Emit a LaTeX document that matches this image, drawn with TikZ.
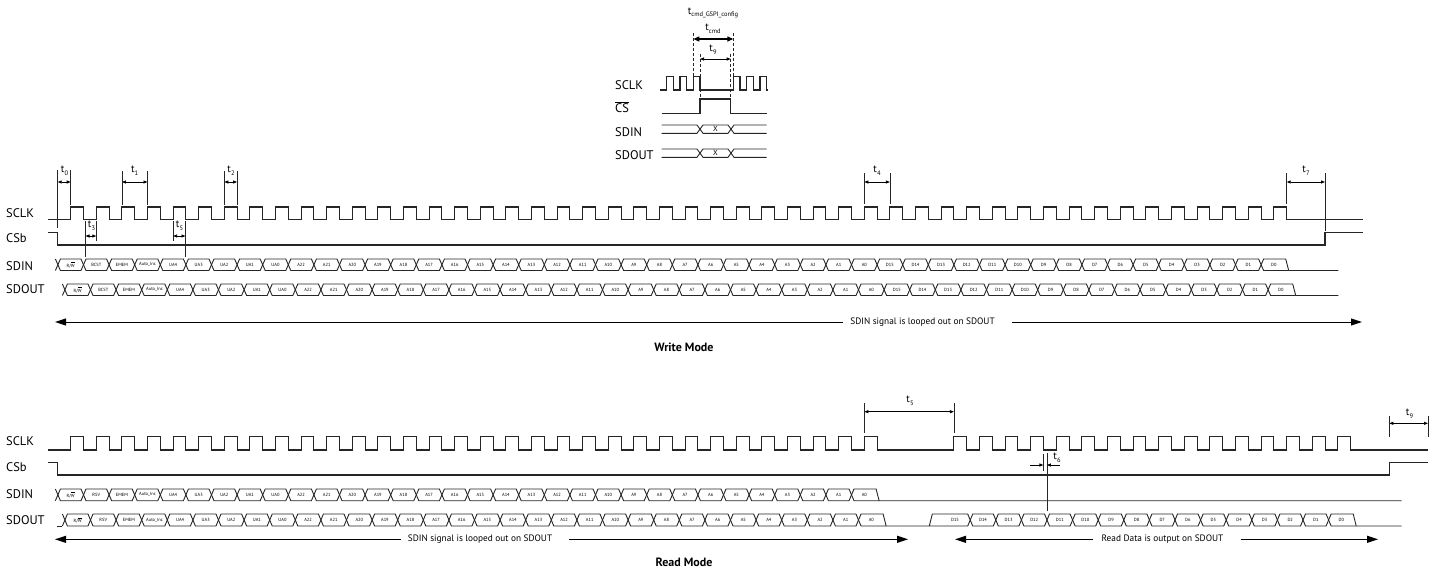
\documentclass[tikz,border=0pt]{standalone}
\usepackage{fontspec}
\setmainfont{PT Sans}
\usetikzlibrary{arrows.meta}
\newcommand{\myol}[1]{$\overline{\mbox{#1}}$}
\newcommand{\tlab}[1]{t\raisebox{-0.5ex}{\fontsize{6.5}{6.5}\selectfont #1}}
% hexagonal bus cell: a, b, top, bottom, label, name
\newcommand{\hcell}[6]{%
  \draw[bus] (#1,{(#3+#4)/2}) -- ({#1+2.5},#3) -- ({#2-2.5},#3) -- (#2,{(#3+#4)/2}) -- ({#2-2.5},#4) -- ({#1+2.5},#4) -- cycle;
  \node[cellf] (#6) at ({(#1+#2)/2},{(#3+#4)/2}) {#5};}
% last cell of a bus: a, b, top, bottom, label, end of trailing line
\newcommand{\lcell}[6]{%
  \draw[bus] (#1,{(#3+#4)/2}) -- ({#1+2.5},#3) -- ({#2-1},#3) -- ({#2+2},#4) -- (#6,#4);
  \draw[bus] (#1,{(#3+#4)/2}) -- ({#1+2.5},#4) -- ({#2+2},#4);
  \node[cellf] at ({(#1+#2)/2},{(#3+#4)/2}) {#5};}
% partial crossing before the first cell: a, top, bottom
\newcommand{\pcross}[3]{%
  \draw[bus] ({#1-2.5},#2) -- (#1,{(#2+#3)/2}) -- ({#1-2.5},#3);}
\def\wlist{{R/\myol{W}},BCST,EMEM,Auto\_Inc,UA4,UA3,UA2,UA1,UA0,A22,A21,A20,A19,A18,A17,A16,A15,A14,A13,A12,A11,A10,A9,A8,A7,A6,A5,A4,A3,A2,A1,A0,D15,D14,D13,D12,D11,D10,D9,D8,D7,D6,D5,D4,D3,D2,D1}
\def\rlist{{R/\myol{W}},RSV,EMEM,Auto\_Inc,UA4,UA3,UA2,UA1,UA0,A22,A21,A20,A19,A18,A17,A16,A15,A14,A13,A12,A11,A10,A9,A8,A7,A6,A5,A4,A3,A2,A1}
\def\dlist{D14,D13,D12,D11,D10,D9,D8,D7,D6,D5,D4,D3,D2,D1}
\begin{document}
\begin{tikzpicture}[x=1pt,y=-1pt,
  sig/.style={line width=1.1pt,draw=black!85,line join=miter},
  bus/.style={line width=0.9pt,draw=black!85},
  cellf/.style={inner sep=0pt,font=\fontsize{4.5}{5}\selectfont},
  lab/.style={anchor=west,inner sep=0pt,font=\fontsize{12.5}{13}\selectfont},
  tl/.style={inner sep=0pt,font=\fontsize{10.5}{11}\selectfont},
  guide/.style={line width=0.8pt,draw=black!85},
  dguide/.style={line width=0.8pt,draw=black!85,dash pattern=on 3pt off 2pt},
  dim/.style={line width=0.8pt,{Triangle[length=4pt,width=3pt]}-{Triangle[length=4pt,width=3pt]}},
  bdim/.style={line width=1.3pt,{Triangle[length=6pt,width=5pt]}-{Triangle[length=6pt,width=5pt]}},
  big/.style={line width=1pt,-{Triangle[length=11pt,width=7pt]}},
  note/.style={inner sep=0pt,font=\fontsize{9.3}{10}\selectfont},
  title/.style={inner sep=0pt,font=\bfseries\fontsize{12}{13}\selectfont}]
\useasboundingbox (0,0) rectangle (1440,571);

%================ inset =================
\node[tl] (tgspi) at (713,13) {\tlab{cmd\_GSPI\_config}};
\node[tl] (tcmd) at (713,29) {\tlab{cmd}};
\node[tl] (tnine) at (713,50) {\tlab{9}};
\node[lab] (iclk) at (615,85) {SCLK};
\node[lab] (ics) at (615,107.5) {\myol{CS}};
\node[lab] (isdin) at (615,132) {SDIN};
\node[lab] (isdout) at (615,155) {SDOUT};
\draw[sig] (660,90) foreach \x in {666.7,680,693.3,733.3,746.7,760} {-- (\x,90) -- ++(0,-13.3) -- ++(6.7,0) -- ++(0,13.3)} -- (768,90);
\draw[sig] (661.7,113.3) -- (700,113.3) -- (700,99) -- (730.7,99) -- (730.7,113.3) -- (766.7,113.3);
\foreach \t/\b/\n in {125/133.3/a,149/157.3/b}{
  \draw[bus] (661.7,\t) -- (697,\t) -- (703,\b) -- (728,\b) -- (734,\t) -- (766.7,\t);
  \draw[bus] (661.7,\b) -- (697,\b) -- (703,\t) -- (728,\t) -- (734,\b) -- (766.7,\b);
  \node[inner sep=0pt,font=\fontsize{7.5}{8}\selectfont] (ix\n) at (715.5,{(\t+\b)/2}) {X};}
\draw[dguide] (693.3,33) -- (693.3,80);
\draw[dguide] (733.3,33) -- (733.3,80);
\draw[dguide] (700,54) -- (700,100);
\draw[dguide] (730.7,54) -- (730.7,100);
\draw[bdim] (693.3,39) -- (733.3,39);
\draw[dim] (700,59) -- (730.7,59);

%================ write mode =================
\node[lab] (wclk) at (6,213) {SCLK};
\node[lab] (wcs) at (6,238) {CSb};
\node[lab] (wsdin) at (6,266) {SDIN};
\node[lab] (wsdout) at (6,289.5) {SDOUT};
\draw[sig] (48.3,219.5) foreach \k in {0,...,47} {-- ({70.7+\k*25.6},219.5) -- ++(0,-12.5) -- ++(12.8,0) -- ++(0,12.5)} -- (1363,219.5);
\draw[sig] (48.3,232.7) -- (57.7,232.7) -- (57.7,245) -- (1325,245) -- (1325,232.7) -- (1363,232.7);
% SDIN
\pcross{57.9}{259}{270.5}
\foreach \lab [count=\k from 0] in \wlist {
  \pgfmathsetmacro\a{57.9+\k*25.6}\pgfmathsetmacro\b{\a+25.6}
  \hcell{\a}{\b}{259}{270.5}{\lab}{wi\k}}
\lcell{1261.1}{1286.7}{259}{270.5}{D0}{1338.3}
% SDOUT
\pcross{64.9}{284}{295.5}
\foreach \lab [count=\k from 0] in \wlist {
  \pgfmathsetmacro\a{64.9+\k*25.6}\pgfmathsetmacro\b{\a+25.6}
  \hcell{\a}{\b}{284}{295.5}{\lab}{wo\k}}
\lcell{1268.1}{1293.7}{284}{295.5}{D0}{1338.3}
% timing marks
\draw[guide] (57.7,170) -- (57.7,228);
\draw[guide] (70.7,170) -- (70.7,205);
\draw[dim] (57.7,182) -- (70.7,182);
\node[tl] (t0) at (64.5,171) {\tlab{0}};
\draw[guide] (121.9,171) -- (121.9,205);
\draw[guide] (147.5,171) -- (147.5,205);
\draw[dim] (121.9,182) -- (147.5,182);
\node[tl] (t1) at (134.7,171) {\tlab{1}};
\draw[guide] (224.3,171) -- (224.3,205);
\draw[guide] (237.1,171) -- (237.1,205);
\draw[dim] (224.3,182) -- (237.1,182);
\node[tl] (t2) at (231,171) {\tlab{2}};
\draw[guide] (85.5,221) -- (85.5,257);
\draw[guide] (96.3,221) -- (96.3,241);
\draw[dim] (85.5,236) -- (96.3,236);
\node[tl] (t3) at (91.5,226) {\tlab{3}};
\draw[guide] (173.1,221) -- (173.1,241);
\draw[guide] (185.5,221) -- (185.5,257);
\draw[dim] (173.1,236) -- (185.5,236);
\node[tl] (t5w) at (179.5,226) {\tlab{5}};
\draw[guide] (864.3,173) -- (864.3,204);
\draw[guide] (889.9,173) -- (889.9,204);
\draw[dim] (864.3,182) -- (889.9,182);
\node[tl] (t4) at (877,171) {\tlab{4}};
\draw[guide] (1286.7,173) -- (1286.7,204);
\draw[guide] (1325,173) -- (1325,231);
\draw[dim] (1286.7,182) -- (1325,182);
\node[tl] (t7) at (1306,171) {\tlab{7}};
% note arrow
\node[note] (wnote) at (922.5,322) {SDIN signal is looped out on SDOUT};
\coordinate (wl) at (55,322);
\coordinate (wr) at (1362,322);
\draw[big] ([xshift=-7pt]wnote.west) -- (wl);
\draw[big] ([xshift=17pt]wnote.east) -- (wr);
\node[title] (wtitle) at (684,347) {Write Mode};

%================ read mode =================
\node[lab] (rclk) at (6,441) {SCLK};
\node[lab] (rcs) at (6,467.5) {CSb};
\node[lab] (rsdin) at (6,494) {SDIN};
\node[lab] (rsdout) at (6,520) {SDOUT};
\draw[sig] (48.3,450) foreach \k in {0,...,31} {-- ({70.7+\k*25.6},450) -- ++(0,-13.3) -- ++(12.8,0) -- ++(0,13.3)} foreach \j in {0,...,15} {-- ({953.9+\j*25.6},450) -- ++(0,-13.3) -- ++(12.8,0) -- ++(0,13.3)} -- (1428,450);
\draw[sig] (48.3,462.7) -- (57.7,462.7) -- (57.7,475) -- (1389.3,475) -- (1389.3,462.7) -- (1428,462.7);
% SDIN
\pcross{57.9}{489}{500.7}
\foreach \lab [count=\k from 0] in \rlist {
  \pgfmathsetmacro\a{57.9+\k*25.6}\pgfmathsetmacro\b{\a+25.6}
  \hcell{\a}{\b}{489}{500.7}{\lab}{ri\k}}
\lcell{851.5}{877.1}{489}{500.7}{A0}{1401.7}
% SDOUT
\draw[bus] (57,526) -- (62.4,526);
\pcross{64.9}{514}{526}
\foreach \lab [count=\k from 0] in \rlist {
  \pgfmathsetmacro\a{64.9+\k*25.6}\pgfmathsetmacro\b{\a+25.6}
  \hcell{\a}{\b}{514}{526}{\lab}{ro\k}}
\lcell{858.5}{884.1}{514}{526}{A0}{929.3}
\draw[bus] (929.3,526) -- (932.3,514) -- (967.7,514) -- (970.2,520) -- (967.7,526) -- (929.3,526);
\node[cellf] (rd15) at (955,520) {D15};
\foreach \lab [count=\k from 0] in \dlist {
  \pgfmathsetmacro\a{970.2+\k*25.6}\pgfmathsetmacro\b{\a+25.6}
  \hcell{\a}{\b}{514}{526}{\lab}{rd\k}}
\lcell{1328.6}{1354.2}{514}{526}{D0}{1401.7}
% timing marks
\draw[guide] (864.3,403) -- (864.3,433);
\draw[guide] (953.9,403) -- (953.9,433);
\draw[dim] (864.3,411.7) -- (953.9,411.7);
\node[tl] (t5r) at (910,401) {\tlab{5}};
\draw[guide] (1043.4,454) -- (1043.4,471);
\draw[guide] (1046.9,453) -- (1046.9,511);
\coordinate (t6a) at (1030,465);
\coordinate (t6b) at (1060,465);
\draw[line width=0.8pt,-{Triangle[length=4pt,width=3pt]}] (t6a) -- (1043.4,465);
\draw[line width=0.8pt,-{Triangle[length=4pt,width=3pt]}] (t6b) -- (1046.9,465);
\node[tl] (t6) at (1057,458) {\tlab{6}};
\draw[guide] (1389.3,416) -- (1389.3,437);
\draw[guide] (1428,416) -- (1428,437);
\draw[dim] (1389.3,423.3) -- (1428,423.3);
\node[tl] (t9r) at (1409.5,414) {\tlab{9}};
% notes
\node[note] (rnote1) at (480,539.3) {SDIN signal is looped out on SDOUT};
\coordinate (rl1) at (55,539.3);
\coordinate (rr1) at (908,539.3);
\draw[big] ([xshift=-7pt]rnote1.west) -- (rl1);
\draw[big] ([xshift=17pt]rnote1.east) -- (rr1);
\node[note] (rnote2) at (1162.5,539.3) {Read Data is output on SDOUT};
\coordinate (rl2) at (955,539.3);
\coordinate (rr2) at (1378,539.3);
\draw[big] ([xshift=-8pt]rnote2.west) -- (rl2);
\draw[big] ([xshift=17pt]rnote2.east) -- (rr2);
\node[title] (rtitle) at (684,562) {Read Mode};
\end{tikzpicture}
\end{document}
